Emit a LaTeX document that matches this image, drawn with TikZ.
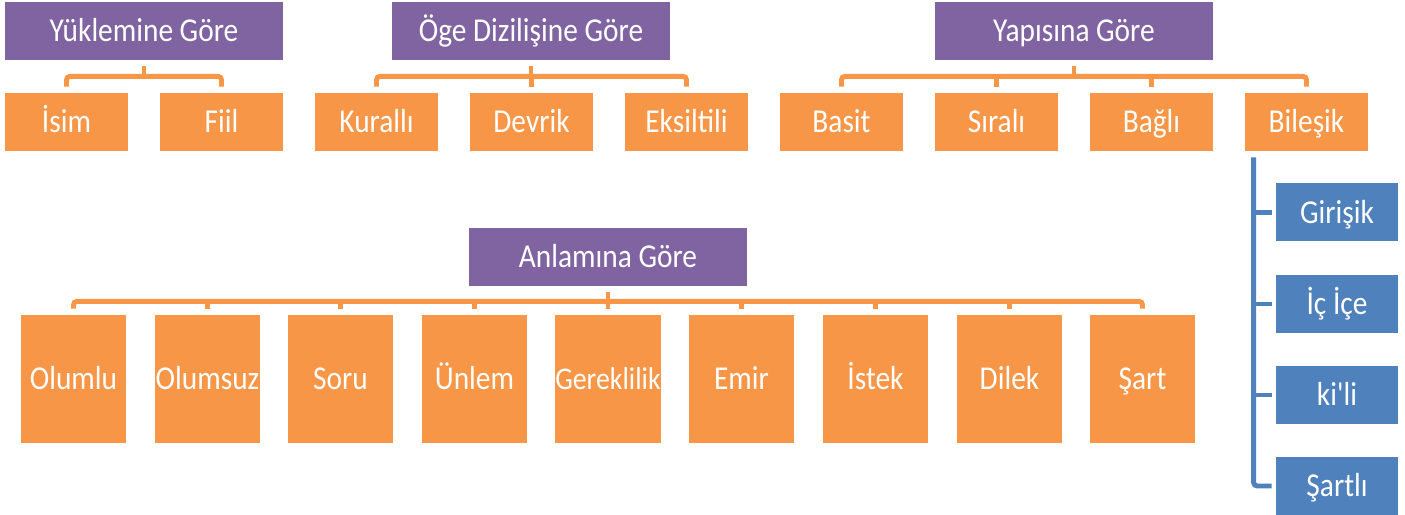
\documentclass[tikz,border=0pt]{standalone}
\usepackage{fontspec}
\usepackage{tikz}
\usepackage{xcolor}
\usetikzlibrary{calc}
\newfontfamily\boxfont{Carlito}[FakeStretch=0.88]
\definecolor{katpurple}{HTML}{8064A2}
\definecolor{katorange}{HTML}{F79646}
\definecolor{katblue}{HTML}{4F81BD}

\begin{document}
\begin{tikzpicture}[
            x=0.2mm, y=-0.2mm,
            every node/.style={text=white, inner sep=0pt, text height=12.2pt, text depth=0pt, font=\boxfont\fontsize{19}{22}\selectfont},
            head/.style={fill=katpurple, minimum width=55.6mm, minimum height=11.6mm},
            leaf/.style={fill=katorange, minimum width=24.6mm, minimum height=11.6mm},
            tall/.style={fill=katorange, minimum width=21mm, minimum height=25.6mm},
            sub/.style={fill=katblue, minimum width=24.4mm, minimum height=11.6mm},
            orline/.style={draw=katorange, line width=2.8pt, rounded corners=2pt},
            blline/.style={draw=katblue, line width=2.8pt, rounded corners=2pt}
        ]
            \useasboundingbox (0,0) rectangle (1405,515);

            % Yuklemine gore
            \node[head] (yuk) at (144,31) {Yüklemine Göre};
            \node[leaf] (isim) at (66.5,122) {İsim};
            \node[leaf] (fiil) at (221.5,122) {Fiil};

            % Oge dizilisine gore
            \node[head] (oge) at (531,31) {Öge Dizilişine Göre};
            \node[leaf] (kuralli) at (376.5,122) {Kurallı};
            \node[leaf] (devrik) at (531.5,122) {Devrik};
            \node[leaf] (eksiltili) at (686.5,122) {Eksiltili};

            % Yapisina gore
            \node[head] (yapi) at (1074,31) {Yapısına Göre};
            \node[leaf] (basit) at (841.5,122) {Basit};
            \node[leaf] (sirali) at (996.5,122) {Sıralı};
            \node[leaf] (bagli) at (1151.5,122) {Bağlı};
            \node[leaf] (bilesik) at (1306.5,122) {Bileşik};

            % Bilesik alt turleri
            \node[sub] (girisik) at (1337,212.5) {Girişik};
            \node[sub] (icice) at (1337,304) {İç İçe};
            \node[sub] (kili) at (1337,395) {ki'li};
            \node[sub] (sartli) at (1337,486) {Şartlı};

            % Anlamina gore
            \node[head] (anlam) at (608,257) {Anlamına Göre};
            \node[tall] (olumlu) at (73.5,379) {Olumlu};
            \node[tall] (olumsuz) at (207.5,379) {Olumsuz};
            \node[tall] (soru) at (340.5,379) {Soru};
            \node[tall] (unlem) at (474.5,379) {Ünlem};
            \node[tall, font=\boxfont\fontsize{18}{22}\selectfont] (gerek) at (608,379) {Gereklilik};
            \node[tall] (emir) at (741.5,379) {Emir};
            \node[tall] (istek) at (875.5,379) {İstek};
            \node[tall] (dilek) at (1009.5,379) {Dilek};
            \node[tall] (sart) at (1142.5,379) {Şart};

            % Brackets
            \draw[orline] ($(yuk.south)+(0,6)$) -- ++(0,10);
            \draw[orline] ($(isim.north)+(0,-6)$) |- ($(yuk.south)+(0,16)$) -| ($(fiil.north)+(0,-6)$);

            \draw[orline] ($(oge.south)+(0,6)$) -- ++(0,10);
            \draw[orline] ($(kuralli.north)+(0,-6)$) |- ($(oge.south)+(0,16)$) -| ($(eksiltili.north)+(0,-6)$);
            \draw[orline] ($(devrik.north)+(0,-6)$) -- ++(0,-10);

            \draw[orline] ($(yapi.south)+(0,6)$) -- ++(0,10);
            \draw[orline] ($(basit.north)+(0,-6)$) |- ($(yapi.south)+(0,16)$) -| ($(bilesik.north)+(0,-6)$);
            \draw[orline] ($(sirali.north)+(0,-6)$) -- ++(0,-10);
            \draw[orline] ($(bagli.north)+(0,-6)$) -- ++(0,-10);

            \draw[orline] ($(anlam.south)+(0,6)$) -- ++(0,9);
            \draw[orline] ($(olumlu.north)+(0,-6)$) |- ($(anlam.south)+(0,15)$) -| ($(sart.north)+(0,-6)$);
            \draw[orline] ($(olumsuz.north)+(0,-6)$) -- ++(0,-8);
            \draw[orline] ($(soru.north)+(0,-6)$) -- ++(0,-8);
            \draw[orline] ($(unlem.north)+(0,-6)$) -- ++(0,-8);
            \draw[orline] ($(gerek.north)+(0,-6)$) -- ++(0,-8);
            \draw[orline] ($(emir.north)+(0,-6)$) -- ++(0,-8);
            \draw[orline] ($(istek.north)+(0,-6)$) -- ++(0,-8);
            \draw[orline] ($(dilek.north)+(0,-6)$) -- ++(0,-8);

            % Bilesik list
            \draw[blline] ($(bilesik.south west)+(9,6)$) |- ($(sartli.west)+(-4,0)$);
            \draw[blline] ($(girisik.west)+(-4,0)$) -- ++(-18,0);
            \draw[blline] ($(icice.west)+(-4,0)$) -- ++(-18,0);
            \draw[blline] ($(kili.west)+(-4,0)$) -- ++(-18,0);
        \end{tikzpicture}
\end{document}
